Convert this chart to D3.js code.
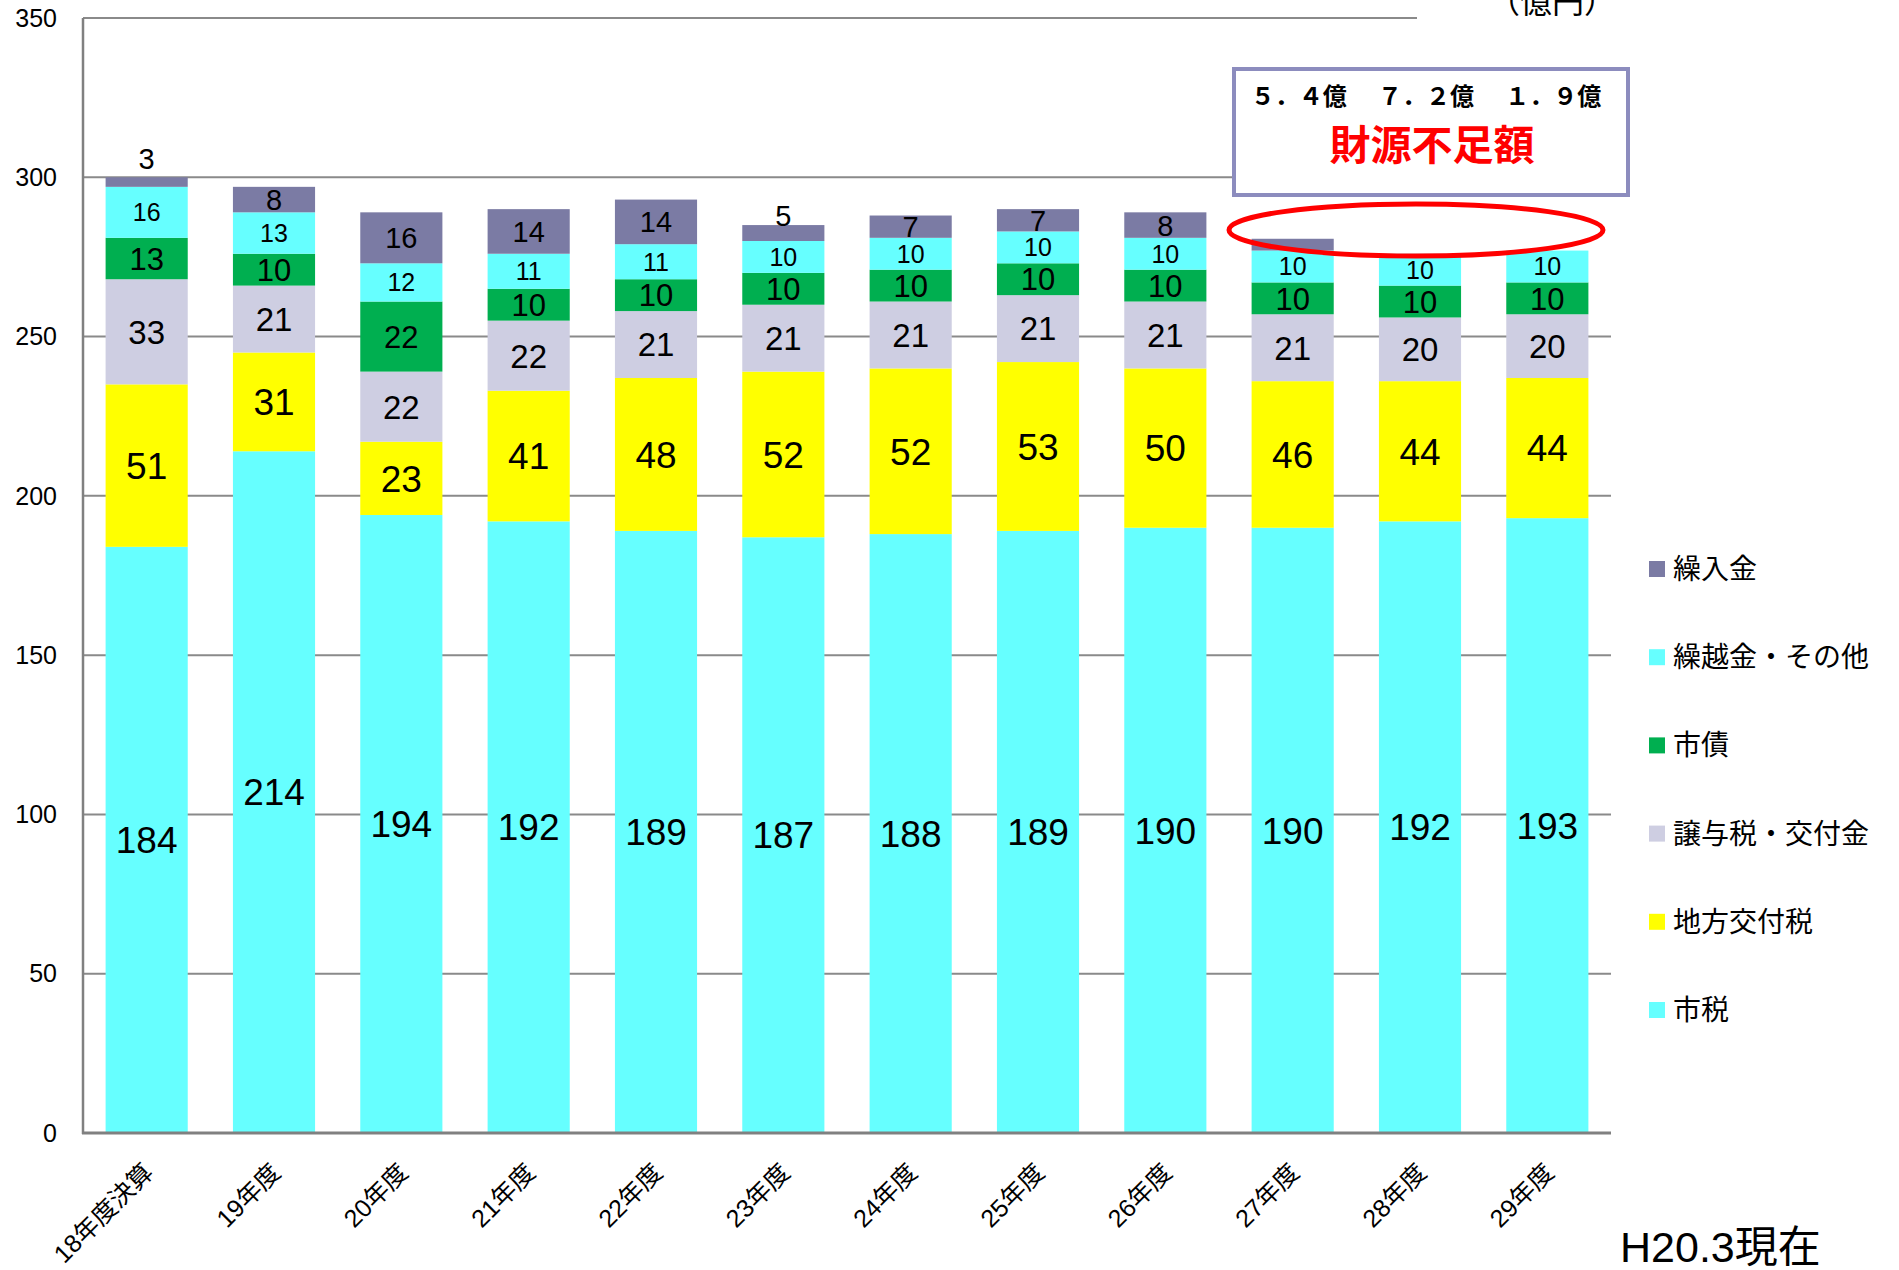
<!DOCTYPE html>
<html><head><meta charset="utf-8">
<script src="https://cdn.jsdelivr.net/npm/d3@7/dist/d3.min.js"></script>
<style>body{margin:0;background:#fff} svg{display:block}</style>
</head><body>
<svg id="chart" width="1899" height="1270"></svg>
<script>
// ---- data ----
const categories = ["18年度決算","19年度","20年度","21年度","22年度","23年度","24年度","25年度","26年度","27年度","28年度","29年度"];
const seriesNames = ["市税","地方交付税","譲与税・交付金","市債","繰越金・その他","繰入金"];
const shizei      = [184,214,194,192,189,187,188,189,190,190,192,193];
const chihoKofu   = [51,31,23,41,48,52,52,53,50,46,44,44];
const joyoKofukin = [33,21,22,22,21,21,21,21,21,21,20,20];
const shisai      = [13,10,22,10,10,10,10,10,10,10,10,10];
const kurikoshi   = [16,13,12,11,11,10,10,10,10,10,10,10];
const kuriire     = [3,8,16,14,14,5,7,7,8,3.7,0,0];
const kuriireShown = [3,8,16,14,14,5,7,7,8,null,null,null];
const yTicks = [0,50,100,150,200,250,300,350];
const shortfallCats = ["27年度","28年度","29年度"];
const shortfallLabels = ["５．４億","７．２億","１．９億"];
const shortfallTitle = "財源不足額";
const unitLabel = "（億円）";
const noteLabel = "H20.3現在";

const seriesValues = [shizei, chihoKofu, joyoKofukin, shisai, kurikoshi, kuriire];
const colors = ["#66FFFF","#FFFF00","#CECEE2","#00AF50","#66FFFF","#7B7BA4"];
const labelSizes = [37,37,33,31,25,29];

// ---- layout ----
const svg = d3.select("#chart");
const x = d3.scaleBand().domain(categories).range([83,1611]).paddingInner(0.355).paddingOuter(0.1775);
const y = d3.scaleLinear().domain([0,350]).range([1133,18]);
const numFont = "'Liberation Sans', Arial, 'Noto Sans CJK JP', sans-serif";
const jpFont = "'Noto Sans CJK JP', 'Liberation Sans', sans-serif";

// gridlines
svg.append("g").selectAll("line").data(yTicks.filter(d=>d>0)).join("line")
  .attr("x1",83).attr("x2",1611)
  .attr("y1",d=>y(d)).attr("y2",d=>y(d))
  .attr("stroke","#8a8a8a").attr("stroke-width",2);

// unit label box (white) covering end of top gridline
svg.append("rect").attr("x",1417).attr("y",0).attr("width",230).attr("height",30).attr("fill","#fff");
svg.append("text").attr("x",1616).attr("y",13).attr("text-anchor","end")
  .attr("font-family",jpFont).attr("font-size",32).attr("fill","#000").text(unitLabel);

// y tick labels
svg.append("g").selectAll("text").data(yTicks).join("text")
  .attr("x",57).attr("y",d=>y(d)).attr("dy","0.35em").attr("text-anchor","end")
  .attr("font-family",numFont).attr("font-size",25).attr("fill","#000")
  .text(d=>d);

// stacked data
const rows = categories.map((c,i)=>{
  const r = {cat:c};
  seriesNames.forEach((s,k)=>r[s]=seriesValues[k][i]);
  return r;
});
const stack = d3.stack().keys(seriesNames)(rows);

const gBars = svg.append("g");
stack.forEach((layer,k)=>{
  gBars.append("g").attr("fill",colors[k]).selectAll("rect").data(layer).join("rect")
    .attr("x",d=>x(d.data.cat))
    .attr("width",x.bandwidth())
    .attr("y",d=>y(d[1]))
    .attr("height",d=>Math.max(0,y(d[0])-y(d[1])));
});

// axes lines
svg.append("line").attr("x1",83).attr("x2",83).attr("y1",18).attr("y2",1134)
  .attr("stroke","#808080").attr("stroke-width",2.5);
svg.append("line").attr("x1",82).attr("x2",1611).attr("y1",1133).attr("y2",1133)
  .attr("stroke","#808080").attr("stroke-width",3);

// segment labels
const gLab = svg.append("g").attr("font-family",numFont).attr("fill","#000").attr("text-anchor","middle");
stack.forEach((layer,k)=>{
  layer.forEach((d,i)=>{
    const v = d[1]-d[0];
    const cx = x(d.data.cat)+x.bandwidth()/2;
    if(k===5){
      const shown = kuriireShown[i];
      if(shown===null) return;
      if(v<4){
        gLab.append("text").attr("x",cx).attr("y",y(d[1])-8)
          .attr("font-size",labelSizes[k]).text(shown);
        return;
      }
      if(v<=5){
        gLab.append("text").attr("x",cx).attr("y",y(d[1])+1)
          .attr("font-size",labelSizes[k]).text(shown);
        return;
      }
      gLab.append("text").attr("x",cx).attr("y",(y(d[0])+y(d[1]))/2).attr("dy","0.36em")
        .attr("font-size",labelSizes[k]).text(shown);
      return;
    }
    if(v<=0) return;
    gLab.append("text").attr("x",cx).attr("y",(y(d[0])+y(d[1]))/2).attr("dy","0.36em")
      .attr("font-size",labelSizes[k]).text(v);
  });
});

// x labels
svg.append("g").selectAll("text").data(categories).join("text")
  .attr("transform",d=>`translate(${x(d)+x.bandwidth()/2+8},1174) rotate(-45)`)
  .attr("text-anchor","end")
  .attr("font-family",numFont).attr("font-size",25).attr("fill","#000")
  .text(d=>d);

// legend
const legendOrder = seriesNames.map((s,k)=>k).reverse();
const gLeg = svg.append("g");
legendOrder.forEach((k,i)=>{
  const cy = 569 + i*88.2;
  gLeg.append("rect").attr("x",1649).attr("y",cy-8).attr("width",16).attr("height",16).attr("fill",colors[k]);
  gLeg.append("text").attr("x",1673).attr("y",cy).attr("dy","0.36em")
    .attr("font-family",jpFont).attr("font-size",28).attr("fill","#000").text(seriesNames[k]);
});

// shortfall annotation box
svg.append("rect").attr("x",1234).attr("y",69).attr("width",394).attr("height",126)
  .attr("fill","#fff").attr("stroke","#8C8CBE").attr("stroke-width",4);
shortfallCats.forEach((c,i)=>{
  svg.append("text").attr("x",x(c)+x.bandwidth()/2+6).attr("y",96).attr("dy","0.36em")
    .attr("text-anchor","middle").attr("font-family",jpFont).attr("font-weight","bold")
    .attr("font-size",24).attr("fill","#000").text(shortfallLabels[i]);
});
svg.append("text").attr("x",1432).attr("y",145).attr("dy","0.36em").attr("text-anchor","middle")
  .attr("font-family",jpFont).attr("font-weight","bold").attr("font-size",41).attr("fill","#FF0000")
  .text(shortfallTitle);

// red ellipse
svg.append("ellipse").attr("cx",1416).attr("cy",230).attr("rx",187).attr("ry",26)
  .attr("fill","none").attr("stroke","#FF0000").attr("stroke-width",5);

// note
svg.append("text").attr("x",1620).attr("y",1262)
  .attr("font-family",numFont).attr("font-size",43).attr("fill","#000").text(noteLabel);
</script>
</body></html>
